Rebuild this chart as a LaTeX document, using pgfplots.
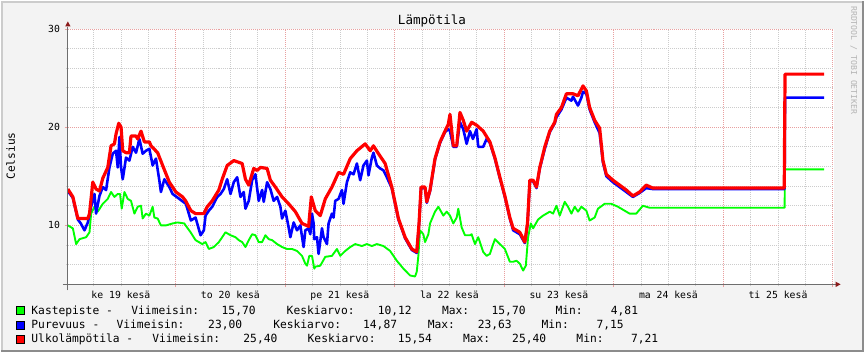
\documentclass[border=0pt]{standalone}
\usepackage{fontspec}
\setmainfont{DejaVu Sans Mono}
\usepackage{pgfplots}
\pgfplotsset{compat=1.18}
\usetikzlibrary{arrows.meta}
\definecolor{canvas}{HTML}{F3F3F3}
\definecolor{mgrid}{HTML}{E8A0A0}
\definecolor{ngrid}{HTML}{CCCCCC}
\definecolor{axcol}{HTML}{6E6E6E}
\definecolor{arrowcol}{HTML}{8B1A1A}
\definecolor{cgreen}{HTML}{00FF00}
\definecolor{cblue}{HTML}{0000FF}
\definecolor{cred}{HTML}{FF0000}
\definecolor{wmark}{HTML}{B4B4B4}
\newcommand{\legf}{\fontsize{11.3}{13}\selectfont}
\begin{document}
\begin{tikzpicture}[x=1pt,y=1pt]
\fill[canvas] (0,0) rectangle (865,352);
\draw[line width=2pt, color=ngrid] (1,0) -- (1,351) -- (865,351);
\draw[line width=2pt, color=black!45] (0,1) -- (864,1) -- (864,352);
\begin{axis}[
  at={(67pt,68pt)}, anchor=south west,
  scale only axis, width=768pt, height=256pt,
  xmin=0.37, xmax=168.3, ymin=4, ymax=30,
  axis background/.style={fill=white},
  axis line style={draw=none},
  xtick pos=bottom, ytick pos=left,
  tick align=outside,
  major tick length=3pt, minor tick length=2pt,
  major tick style={draw=mgrid, line width=0.8pt},
  minor tick style={draw=ngrid, line width=0.8pt},
  grid=both,
  major grid style={draw=mgrid, dash pattern=on 1pt off 1pt, line width=0.8pt},
  minor grid style={draw=ngrid, dash pattern=on 1pt off 1pt, line width=0.8pt},
  xtick={24,48,72,96,120,144,168}, xticklabels={},
  minor xtick={6,12,18,30,36,42,54,60,66,78,84,90,102,108,114,126,132,138,150,156,162},
  extra x ticks={12,36,60,84,108,132,156},
  extra x tick labels={ke 19 kesä,to 20 kesä,pe 21 kesä,la 22 kesä,su 23 kesä,ma 24 kesä,ti 25 kesä},
  extra x tick style={xmajorgrids=false, major tick length=0pt,
     tick label style={anchor=base, inner sep=0pt, yshift=-13.7pt, font=\fontsize{9.8}{11}\selectfont}},
  ytick={10,20,30}, yticklabels={10,20,30},
  minor ytick={6,8,12,14,16,18,22,24,26,28},
  yticklabel style={anchor=east, inner sep=0pt, xshift=-4.7pt, font=\fontsize{9.8}{11}\selectfont},
  line join=round,
]
% Kastepiste
\addplot[draw=cgreen, line width=1.9pt, mark=none] coordinates {
(0.37,10.0)(1.47,9.7)(2.19,8.1)(2.93,8.6)(4.38,8.8)(5.12,9.3)(5.47,11.2)(6.21,11.9)(6.93,11.4)
(8.03,12.2)(9.12,12.7)(9.84,13.4)(10.58,12.9)(11.31,13.2)(11.81,13.2)(12.18,11.7)(12.77,13.4)
(13.49,12.7)(14.21,12.5)(14.96,11.2)(15.68,11.9)(16.40,12.0)(16.77,10.7)(17.49,11.2)(18.24,11.0)
(18.96,11.9)(19.33,10.8)(20.05,10.7)(20.77,10.0)(21.87,10.0)(23.33,10.2)(24.43,10.3)(25.89,10.2)
(26.18,10.0)(27.27,9.3)(28.36,8.5)(29.83,8.1)(30.55,8.3)(31.27,7.6)(32.36,7.8)(33.46,8.3)
(34.20,8.8)(34.92,9.3)(36.02,9.0)(37.11,8.8)(37.83,8.5)(38.57,8.3)(39.30,7.8)(40.02,8.5)
(40.76,9.1)(41.48,9.0)(42.20,8.3)(42.95,8.3)(43.67,9.0)(44.39,8.6)(45.13,8.5)(46.23,8.1)
(47.32,7.8)(48.41,7.6)(49.51,7.6)(50.60,7.4)(51.69,6.9)(52.42,6.1)(52.79,5.9)(53.29,6.9)
(53.88,6.9)(54.38,5.6)(54.60,5.8)(55.70,5.9)(56.79,6.8)(58.25,6.9)(59.35,7.6)(60.07,6.9)
(61.16,7.4)(62.26,7.8)(63.35,8.1)(64.81,7.9)(65.91,8.1)(67.00,7.9)(68.10,8.1)(69.54,7.9)
(71.00,7.4)(72.47,6.4)(73.91,5.6)(75.38,4.9)(76.47,4.8)(76.84,5.3)(77.19,6.9)(77.56,9.5)
(78.28,9.1)(78.66,8.3)(79.38,9.1)(79.75,10.2)(80.84,11.4)(81.57,11.9)(82.66,11.0)(83.40,11.4)
(84.12,11.0)(84.85,10.2)(85.59,10.8)(85.94,11.7)(86.68,9.8)(87.40,9.0)(88.50,9.0)(88.87,9.1)
(89.59,8.1)(90.31,8.8)(91.40,7.3)(92.15,6.9)(92.87,7.1)(93.96,8.6)(95.06,8.1)(96.15,7.6)
(97.24,6.3)(97.97,6.3)(98.71,6.4)(99.43,6.1)(100.15,5.4)(100.74,5.9)(101.24,8.8)(101.84,10.2)
(102.34,9.7)(103.43,10.6)(104.53,11.0)(105.27,11.2)(105.99,11.4)(106.71,11.2)(107.45,12.0)
(108.18,11.0)(109.27,12.4)(109.99,11.9)(110.73,11.2)(111.46,11.9)(112.18,11.4)(112.92,11.9)
(114.01,11.5)(114.73,10.5)(115.83,10.8)(116.55,11.7)(118.02,12.2)(119.48,12.2)(120.93,11.9)
(122.39,11.5)(123.49,11.2)(124.95,11.2)(126.39,12.0)(127.85,11.8)(157.45,11.8)(157.55,15.7)(166.13,15.7)
};
% Purevuus
\addplot[draw=cblue, line width=2.6pt, mark=none] coordinates {
(0.37,13.5)(1.47,12.8)(2.56,10.6)(3.21,10.2)(4.02,9.5)(4.75,10.3)(5.47,11.9)(6.21,13.2)(6.56,11.2)
(7.30,13.0)(8.03,13.9)(8.75,13.6)(9.49,15.9)(10.21,17.3)(10.93,17.6)(11.31,15.9)(11.68,19.0)
(12.03,15.9)(12.40,14.7)(13.12,16.9)(13.86,16.6)(14.59,18.0)(15.31,17.4)(16.05,18.8)(16.77,17.3)
(17.49,17.6)(18.24,17.8)(18.96,16.1)(19.68,16.8)(20.42,14.6)(20.77,13.4)(21.52,14.7)(22.61,13.9)
(23.33,13.2)(24.80,12.7)(26.24,12.2)(27.33,10.5)(28.36,10.8)(29.46,9.0)(30.18,9.5)(30.55,11.0)
(31.27,11.5)(32.01,11.9)(33.11,12.9)(33.83,13.2)(34.55,13.7)(35.29,14.7)(36.02,13.2)(36.74,14.4)
(37.48,14.9)(38.20,12.9)(38.92,13.4)(39.30,11.7)(40.02,12.5)(40.76,14.6)(41.48,15.2)(42.20,12.5)
(42.95,13.6)(43.30,12.4)(44.04,14.4)(44.76,13.7)(45.48,12.5)(46.23,12.9)(46.95,11.9)(47.32,10.7)
(48.04,11.5)(48.76,9.8)(49.14,8.8)(49.86,10.3)(50.60,9.5)(51.32,10.0)(52.04,7.8)(52.42,9.5)
(53.14,9.7)(53.51,9.1)(53.88,11.2)(54.23,10.2)(54.38,8.6)(54.97,8.8)(55.32,7.1)(56.07,9.7)
(56.42,8.8)(57.16,8.1)(57.51,10.2)(58.25,11.2)(58.60,10.8)(58.98,12.5)(59.70,12.7)(60.44,13.6)
(60.79,12.2)(61.53,14.4)(62.26,15.4)(62.98,15.2)(63.72,16.3)(64.44,14.6)(65.16,16.1)(65.91,16.6)
(66.26,15.1)(67.00,16.9)(67.35,17.4)(68.10,16.1)(68.82,15.8)(69.54,15.6)(70.28,14.9)(71.37,13.8)
(72.82,10.6)(74.28,8.7)(75.75,7.5)(76.84,7.2)(77.34,10.1)(77.78,13.8)(78.66,13.8)(79.03,12.3)
(79.75,13.5)(80.84,16.7)(81.94,18.4)(83.03,19.5)(83.75,19.8)(84.12,19.6)(84.85,18.0)(85.59,18.0)
(86.31,20.5)(87.03,19.8)(87.77,18.3)(88.50,19.6)(89.15,18.8)(89.96,19.8)(90.31,18.0)(91.40,18.0)
(92.15,18.8)(92.87,18.4)(93.96,16.8)(95.06,14.8)(96.15,12.9)(97.24,10.7)(97.97,9.5)(99.43,9.1)
(100.52,8.2)(101.11,10.1)(101.62,14.5)(102.34,14.5)(103.08,13.8)(103.80,15.8)(104.90,17.8)
(105.99,19.5)(107.08,20.4)(107.45,21.0)(108.55,21.8)(109.64,23.0)(110.73,22.7)(111.08,23.1)
(112.18,22.2)(112.92,23.0)(113.27,23.6)(114.01,23.4)(114.73,21.8)(115.83,20.5)(116.92,19.4)
(117.65,16.4)(118.39,15.0)(119.83,14.4)(121.30,13.9)(122.76,13.4)(124.21,12.9)(125.67,13.3)
(127.13,13.8)(128.58,13.7)(157.45,13.7)(157.55,23.0)(166.13,23.0)
};
% Ulkolampotila
\addplot[draw=cred, line width=3.2pt, mark=none] coordinates {
(0.37,13.7)(1.47,12.9)(2.56,10.7)(4.75,10.7)(5.12,11.2)(5.84,14.4)(6.56,13.7)(7.30,13.5)(8.03,14.8)
(9.12,15.9)(9.84,18.1)(10.58,18.3)(10.93,19.3)(11.52,20.4)(12.03,20.0)(12.40,17.6)(13.12,17.4)
(13.86,17.4)(14.21,19.1)(15.31,19.1)(15.68,18.8)(16.40,19.6)(17.14,18.5)(18.24,18.5)(18.59,18.1)
(20.05,17.4)(21.15,16.1)(22.61,14.4)(24.05,13.4)(25.52,12.9)(26.18,12.5)(27.33,11.5)(28.36,11.2)
(30.18,11.2)(30.92,11.9)(32.01,12.5)(33.46,13.6)(34.20,14.7)(35.29,16.1)(36.74,16.6)(38.57,16.3)
(39.30,14.7)(40.02,14.1)(41.11,15.8)(41.85,15.6)(42.58,15.9)(44.04,15.8)(44.76,14.6)(45.86,13.9)
(47.32,12.9)(48.76,12.2)(50.23,11.4)(51.69,10.2)(53.14,9.9)(53.73,12.9)(54.60,11.5)(55.70,11.0)
(56.79,12.7)(58.25,13.9)(59.70,15.4)(60.79,15.2)(62.26,16.8)(63.72,17.6)(65.54,18.3)(66.63,17.6)
(67.35,18.1)(68.45,17.3)(69.91,16.3)(71.37,13.9)(72.82,10.7)(74.28,8.8)(75.75,7.6)(76.84,7.3)
(77.34,10.2)(77.78,13.9)(78.66,13.9)(79.03,12.4)(79.75,13.6)(80.84,16.8)(81.94,18.5)(83.03,19.6)
(83.75,20.3)(84.12,21.3)(84.85,18.1)(85.59,18.1)(86.31,21.5)(87.03,20.7)(87.77,19.6)(88.87,20.5)
(89.96,20.2)(91.40,19.6)(92.87,18.5)(93.96,16.9)(95.06,14.9)(96.15,13.0)(97.24,10.8)(97.97,9.7)
(99.43,9.3)(100.52,8.3)(101.11,10.2)(101.62,14.6)(102.34,14.6)(103.08,13.9)(103.80,15.9)
(104.90,18.0)(105.99,19.6)(107.08,20.5)(107.45,21.3)(108.55,22.0)(109.64,23.4)(111.08,23.4)
(112.18,23.2)(113.27,24.2)(114.01,23.7)(114.73,22.0)(115.83,20.7)(116.92,19.9)(117.65,16.6)
(118.39,15.2)(119.83,14.6)(121.30,14.1)(122.76,13.6)(124.21,13.0)(125.67,13.4)(127.13,14.1)
(128.58,13.8)(157.38,13.8)(157.55,25.4)(166.13,25.4)
};
\end{axis}
% axes
\draw[axcol, line width=1.2pt] (62,68) -- (837,68);
\draw[axcol, line width=1.2pt] (67,62) -- (67,326);
\fill[arrowcol] (841.5,68) -- (836.5,65.3) -- (836.5,70.7) -- cycle;
\fill[arrowcol] (67,331.5) -- (64.3,326.5) -- (69.7,326.5) -- cycle;
% texts
\node[anchor=base, inner sep=0pt, font=\fontsize{12.6}{14}\selectfont] at (432,328.7) {Lämpötila};
\node[anchor=base, inner sep=0pt, rotate=90, font=\fontsize{11.2}{13}\selectfont] at (14,196.7) {Celsius};
\node[anchor=base west, inner sep=0pt, rotate=-90, text=wmark, font=\fontsize{8.2}{10}\selectfont] at (852,347) {RRDTOOL / TOBI OETIKER};
% legend
\draw[fill=cgreen, draw=black, line width=0.8pt] (15,37.5) rectangle (23,45.5);
\draw[fill=cblue, draw=black, line width=0.8pt] (15,23.3) rectangle (23,31.3);
\draw[fill=cred, draw=black, line width=0.8pt] (15,9.1) rectangle (23,17.1);
\begin{scope}[every node/.style={anchor=base west, inner sep=0pt, font=\legf}]
\node at (30.3,37.7) {Kastepiste -};
\node at (130.5,37.7) {Viimeisin:};
\node at (221,37.7) {15,70};
\node at (286.2,37.7) {Keskiarvo:};
\node at (377.5,37.7) {10,12};
\node at (441.9,37.7) {Max:};
\node at (491.6,37.7) {15,70};
\node at (555.6,37.7) {Min:};
\node at (611.1,37.7) {4,81};
\node at (30.3,23.5) {Purevuus -};
\node at (115.7,23.5) {Viimeisin:};
\node at (207.5,23.5) {23,00};
\node at (272.7,23.5) {Keskiarvo:};
\node at (362.8,23.5) {14,87};
\node at (427.6,23.5) {Max:};
\node at (477.7,23.5) {23,63};
\node at (541.7,23.5) {Min:};
\node at (596.8,23.5) {7,15};
\node at (30.3,9.3) {Ulkolämpötila -};
\node at (151.5,9.3) {Viimeisin:};
\node at (242.8,9.3) {25,40};
\node at (307.2,9.3) {Keskiarvo:};
\node at (397.7,9.3) {15,54};
\node at (463,9.3) {Max:};
\node at (512.2,9.3) {25,40};
\node at (576.6,9.3) {Min:};
\node at (631.3,9.3) {7,21};
\end{scope}
\end{tikzpicture}
\end{document}
